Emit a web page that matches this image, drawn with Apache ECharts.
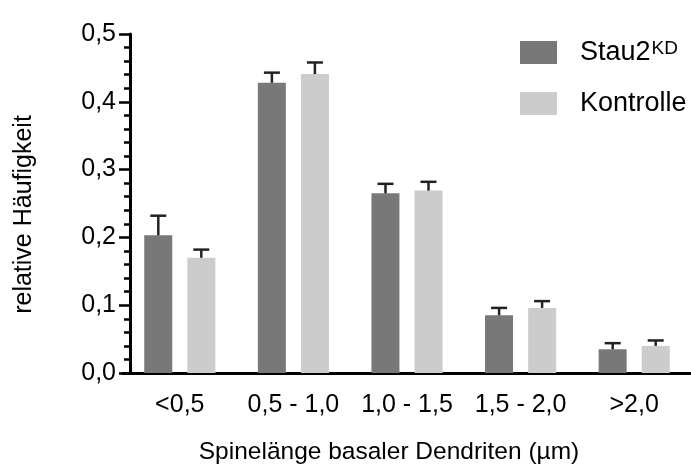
<!DOCTYPE html>
<html>
<head>
<meta charset="utf-8">
<script src="https://cdn.jsdelivr.net/npm/echarts@6/dist/echarts.min.js"></script>
<style>html,body{margin:0;padding:0;background:#fff}#c{width:691px;height:470px}</style>
</head>
<body>
<div id="c"></div>
<script>
var categories = ['<0,5', '0,5 - 1,0', '1,0 - 1,5', '1,5 - 2,0', '>2,0'];
var stauValues = [0.203, 0.428, 0.265, 0.085, 0.035];
var stauErrors = [0.029, 0.015, 0.014, 0.011, 0.009];
var ctrlValues = [0.170, 0.441, 0.269, 0.096, 0.040];
var ctrlErrors = [0.012, 0.017, 0.013, 0.010, 0.008];
var yTicks = [0, 0.1, 0.2, 0.3, 0.4, 0.5];

var FONT = 'Liberation Sans';
var chart = echarts.init(document.getElementById('c'), null, {renderer: 'canvas'});

function errData(vals, errs) {
  return vals.map(function (v, i) { return [i, v, errs[i]]; });
}
function errRender(offset) {
  return function (params, api) {
    var i = api.value(0), v = api.value(1), e = api.value(2);
    var p0 = api.coord([i, v]);
    var p1 = api.coord([i, v + e]);
    var x = p0[0] + offset;
    var style = {stroke: '#222', lineWidth: 2.5};
    return {
      type: 'group',
      children: [
        {type: 'line', shape: {x1: x, y1: p0[1], x2: x, y2: p1[1]}, style: style},
        {type: 'line', shape: {x1: x - 8, y1: p1[1], x2: x + 8, y2: p1[1]}, style: style}
      ]
    };
  };
}

chart.setOption({
  animation: false,
  textStyle: {fontFamily: FONT},
  grid: {left: 123, width: 569, top: 34, bottom: 97},
  legend: {
    left: 520, top: 39, orient: 'vertical', padding: 0,
    itemWidth: 37, itemHeight: 23, itemGap: 24,
    icon: 'rect',
    data: ['Stau2KD', 'Kontrolle'],
    formatter: function (name) {
      return name === 'Stau2KD' ? '{m|Stau2}{s|KD}' : '{m|Kontrolle}';
    },
    textStyle: {
      fontFamily: FONT, color: '#000', padding: [0, 0, 0, 18],
      rich: {
        m: {fontSize: 27, fontFamily: FONT, color: '#000', lineHeight: 26},
        s: {fontSize: 19, fontFamily: FONT, color: '#000', lineHeight: 19, verticalAlign: 'top', padding: [0, 0, 5, 1]}
      }
    }
  },
  xAxis: {
    type: 'category',
    data: categories,
    name: 'Spinelänge basaler Dendriten (µm)',
    nameLocation: 'middle',
    nameGap: 67,
    nameTextStyle: {fontSize: 24.5, color: '#000', fontFamily: FONT, padding: [0, 36, 0, 0]},
    axisLine: {lineStyle: {color: '#000', width: 3}},
    axisTick: {alignWithLabel: true, length: 9, lineStyle: {color: '#000', width: 3}},
    axisLabel: {fontSize: 25, color: '#000', margin: 20, fontFamily: FONT, interval: 0}
  },
  yAxis: {
    type: 'value',
    min: 0, max: 0.5, interval: 0.1,
    offset: -7,
    name: 'relative Häufigkeit',
    nameLocation: 'middle',
    nameGap: 93,
    nameTextStyle: {fontSize: 25, color: '#000', fontFamily: FONT, padding: [0, 22, 0, 0]},
    axisLine: {show: true, lineStyle: {color: '#000', width: 3}},
    axisTick: {show: true, length: 11, lineStyle: {color: '#000', width: 2.5}},
    minorTick: {show: true, splitNumber: 5, length: 6, lineStyle: {color: '#000', width: 2.5}},
    splitLine: {show: false},
    axisLabel: {
      fontSize: 25, color: '#000', margin: 14, fontFamily: FONT,
      formatter: function (v) { return v.toFixed(1).replace('.', ','); }
    }
  },
  series: [
    {name: 'Stau2KD', type: 'bar', data: stauValues, barWidth: 28, barGap: '54%',
     itemStyle: {color: '#787878'}},
    {name: 'Kontrolle', type: 'bar', data: ctrlValues, barWidth: 28, barGap: '54%',
     itemStyle: {color: '#cccccc'}},
    {type: 'custom', renderItem: errRender(-21.5), data: errData(stauValues, stauErrors), z: 5},
    {type: 'custom', renderItem: errRender(21.5), data: errData(ctrlValues, ctrlErrors), z: 5}
  ]
});
</script>
</body>
</html>
